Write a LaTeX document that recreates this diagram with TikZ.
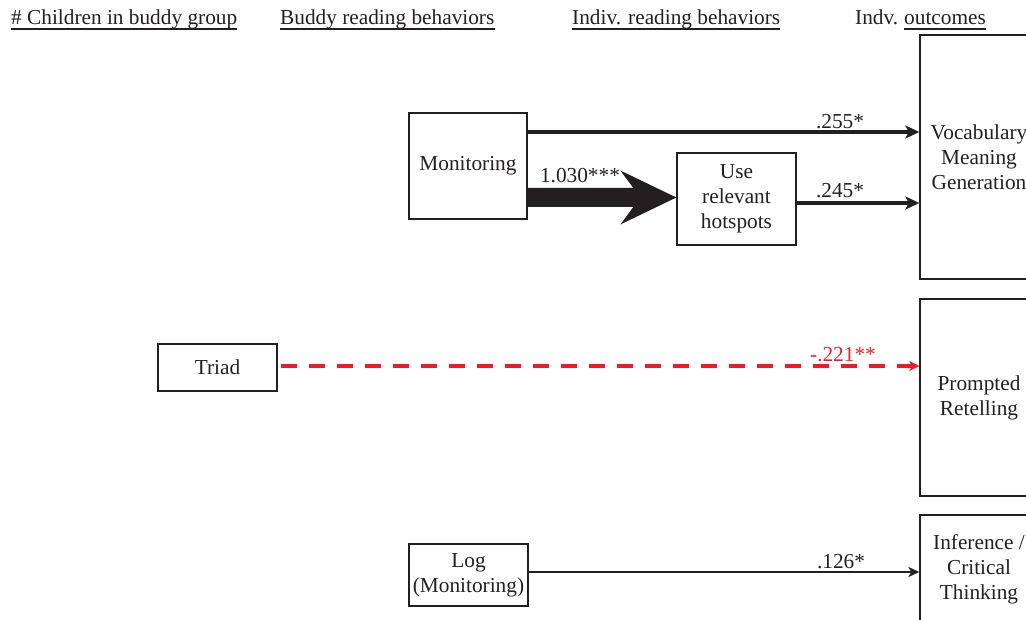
\documentclass[tikz,border=0pt]{standalone}
\usepackage{fontspec}
\setmainfont{Liberation Serif}
\usetikzlibrary{arrows.meta,calc}
\definecolor{ink}{HTML}{231F20}
\definecolor{redline}{HTML}{ED1C24}
\begin{document}
\begin{tikzpicture}[x=1pt,y=-1pt,
  font=\fontsize{21.3}{25}\selectfont,
  every node/.style={text=ink},
  box/.style={draw=ink, line width=1.3pt, inner sep=0pt, align=center},
  lab/.style={anchor=base, inner sep=0pt},
  hdr/.style={anchor=base west, inner sep=0pt},
  uline/.style={draw=ink, line width=1.8pt},
  arrowfour/.style={draw=ink, line width=4pt, -{Stealth[length=14pt,width=13pt,inset=3.5pt]}},
  arrowtwo/.style={draw=ink, line width=2pt, -{Stealth[length=11pt,width=10pt,inset=3pt]}},
  redarrow/.style={draw=redline, line width=4pt, dash pattern=on 16pt off 12pt, shorten <=3pt, -{Stealth[length=10pt,width=10pt,inset=2.5pt]}}
]
\useasboundingbox (0,0) rectangle (1026,620);
\clip (0,0) rectangle (1026,620);

% headers
\node[hdr] (h1) at (11,25) {\# Children in buddy group};
\node[hdr] (h2) at (280,25) {Buddy reading behaviors};
\node[hdr] (h3) at (572,25) {Indiv. reading behaviors};
\node[hdr] (h4a) at (855,25) {Indv.};
\node[hdr] (h4b) at (904,25) {outcomes};
\foreach \h in {h1,h2,h3,h4b}{
  \draw[uline] ($(\h.base west)+(0,4)$) -- ($(\h.base east)+(0,4)$);
}

% boxes
\node[box, minimum width=118pt, minimum height=106pt] (mon) at (468,166) {Monitoring};
\node[box, minimum width=119pt, minimum height=92pt] (use) at (736.5,199) {Use\\relevant\\hotspots};
\node[box, minimum width=118pt, minimum height=244pt] (voc) at (979,157) {Vocabulary\\Meaning\\Generation};
\node[box, minimum width=118pt, minimum height=197pt] (pr) at (979,397.5) {Prompted\\Retelling};
\node[box, minimum width=118pt, minimum height=108pt] (inf) at (979,569) {Inference /\\Critical\\Thinking};
\node[box, minimum width=119pt, minimum height=47pt] (tri) at (217.5,367.5) {Triad};
\node[box, minimum width=119pt, minimum height=62pt] (log) at (468.5,575) {Log\\(Monitoring)};

% rows
\coordinate (r1) at (0,132);
\coordinate (r2) at (0,197.5);
\coordinate (r3) at (0,203);
\coordinate (r4) at (0,366);
\coordinate (r5) at (0,572);

% connectors
\draw[arrowfour] (mon.east |- r1) -- (voc.west |- r1);
\node[lab] (l1) at (840,129) {.255*};

\coordinate (tip) at (use.west |- r2);
\fill[ink] ($(mon.east |- r2)+(0,-9.5)$) -- ($(tip)+(-43,-9.5)$) -- ($(tip)+(-56,-27)$) -- (tip)
  -- ($(tip)+(-56,27)$) -- ($(tip)+(-43,9.5)$) -- ($(mon.east |- r2)+(0,9.5)$) -- cycle;
\node[lab] (l2) at (580,183) {1.030***};

\draw[arrowfour] (use.east |- r3) -- (voc.west |- r3);
\node[lab] (l3) at (840,198) {.245*};

\draw[redarrow] (tri.east |- r4) -- (pr.west |- r4);
\node[lab, text=redline] (l4) at (843,362) {-.221**};

\draw[arrowtwo] (log.east |- r5) -- (inf.west |- r5);
\node[lab] (l5) at (841,568) {.126*};
\end{tikzpicture}
\end{document}
